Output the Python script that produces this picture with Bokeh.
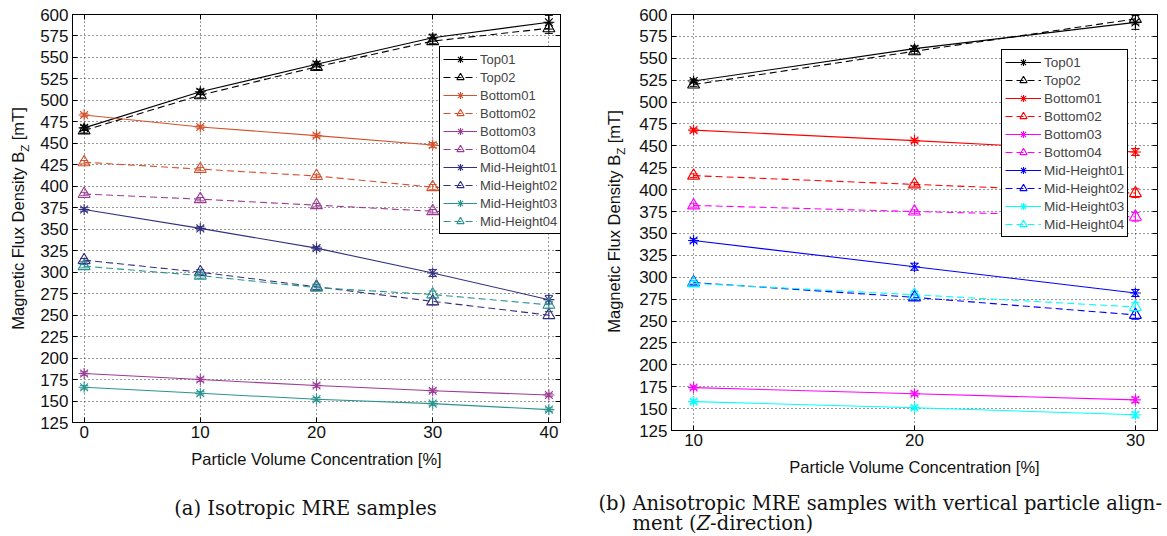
import math
from bokeh.plotting import figure
from bokeh.models import (Range1d, LinearAxis, FixedTicker, CustomJSTickFormatter, Legend,
                          LegendItem, Whisker, TeeHead, ColumnDataSource)
from bokeh.core.properties import value
from bokeh.layouts import row, column
from bokeh.embed import file_html
from bokeh.resources import INLINE

# ---------------- data ----------------
names = ["Top01", "Top02", "Bottom01", "Bottom02", "Bottom03", "Bottom04",
         "Mid-Height01", "Mid-Height02", "Mid-Height03", "Mid-Height04"]
y_ticks = [125, 150, 175, 200, 225, 250, 275, 300, 325, 350, 375, 400, 425, 450,
           475, 500, 525, 550, 575, 600]

# (a) isotropic
x_iso = [0, 10, 20, 30, 40]
iso_top01 = [468, 510, 542, 573, 591]
iso_top02 = [465, 506, 539, 569, 584]
iso_bottom01 = [483, 469, 459, 448, 437]
iso_bottom02 = [428, 420, 412, 399, 390]
iso_bottom03 = [182, 175, 168, 162, 157]
iso_bottom04 = [391, 385, 378, 371, 365]
iso_mid01 = [373, 351, 328, 299, 268]
iso_mid02 = [314, 300, 283, 266, 250]
iso_mid03 = [166, 159, 152, 147, 140]
iso_mid04 = [307, 296, 282, 274, 262]
iso_err = [[3, 3, 3, 4, 8], [3, 3, 3, 3, 6], [2, 2, 2, 3, 3], [2, 2, 2, 3, 3],
           [2, 2, 2, 2, 2], [2, 2, 2, 2, 3], [2, 2, 2, 4, 5], [2, 3, 3, 4, 4],
           [2, 2, 2, 2, 2], [2, 3, 3, 4, 4]]

# (b) anisotropic
x_ani = [10, 20, 30]
ani_top01 = [524, 561, 591]
ani_top02 = [520, 558, 595]
ani_bottom01 = [468, 456, 443]
ani_bottom02 = [416, 406, 396]
ani_bottom03 = [174, 167, 160]
ani_bottom04 = [382, 375, 369]
ani_mid01 = [342, 312, 282]
ani_mid02 = [294, 277, 257]
ani_mid03 = [158, 151, 143]
ani_mid04 = [293, 280, 266]
ani_err = [[2, 3, 8], [2, 3, 6], [2, 2, 4], [2, 2, 5], [2, 2, 3], [2, 2, 5],
           [2, 4, 4], [2, 3, 5], [2, 2, 3], [3, 4, 5]]

iso_series = [iso_top01, iso_top02, iso_bottom01, iso_bottom02, iso_bottom03,
              iso_bottom04, iso_mid01, iso_mid02, iso_mid03, iso_mid04]
ani_series = [ani_top01, ani_top02, ani_bottom01, ani_bottom02, ani_bottom03,
              ani_bottom04, ani_mid01, ani_mid02, ani_mid03, ani_mid04]

x_label = "Particle Volume Concentration [%]"
y_label_parts = ["Magnetic Flux Density B", "Z", "[mT]"]
caption_a = "(a) Isotropic MRE samples"
caption_b1 = "(b) Anisotropic MRE samples with vertical particle align-"
caption_b2_parts = ["ment (", "Z", "-direction)"]

# ---------------- styles ----------------
iso_colors = ["#000000", "#000000", "#D4522E", "#D4522E", "#9B3C94", "#9B3C94",
              "#33307F", "#33307F", "#2A958F", "#2A958F"]
ani_colors = ["#000000", "#000000", "#FF0000", "#FF0000", "#FF00FF", "#FF00FF",
              "#0000FF", "#0000FF", "#00FFFF", "#00FFFF"]
markers = ["asterisk", "triangle"] * 5
dashes = ["solid", "7 4"] * 5

FONT = "Liberation Sans"
SERIF = "DejaVu Serif"
TOTAL_W = 1167
TOP_H = 490
CAP_H = 46


def ylabel_fig(width, cx, cy_from_top, mt, frame_h):
    q = figure(frame_width=width, frame_height=frame_h, output_backend="svg",
               toolbar_location=None, x_range=Range1d(0, width), y_range=Range1d(0, frame_h),
               x_axis_type=None, y_axis_type=None, min_border_left=0, min_border_right=0,
               min_border_top=mt, min_border_bottom=TOP_H - mt - frame_h)
    q.outline_line_color = None
    q.grid.visible = False
    f, fz = 16.5, 11.5
    w_main = 10.781 * f
    w_z = 0.611 * fz
    w_space = 0.278 * f
    w_rest = 2.0 * f
    total = w_main + w_z + w_space + w_rest
    anchor_y = frame_h - (cy_from_top - mt)   # data y of the label centre
    offs = [total / 2, total / 2 - w_main, total / 2 - w_main - w_z - w_space]
    common = dict(angle=math.pi / 2, text_align="left", text_baseline="middle",
                  text_font=value(FONT), text_color="#111111")
    q.text(x=[cx], y=[anchor_y], text=[y_label_parts[0]], y_offset=offs[0],
           text_font_size="16.5px", **common)
    q.text(x=[cx], y=[anchor_y], text=[y_label_parts[1]], y_offset=offs[1], x_offset=7,
           text_font_size="11.5px", **common)
    q.text(x=[cx], y=[anchor_y], text=[y_label_parts[2]], y_offset=offs[2],
           text_font_size="16.5px", **common)
    return q


def caption_fig():
    q = figure(width=TOTAL_W, height=CAP_H, output_backend="svg", toolbar_location=None,
               x_range=Range1d(0, TOTAL_W), y_range=Range1d(0, CAP_H),
               x_axis_type=None, y_axis_type=None, min_border=0)
    q.outline_line_color = None
    q.grid.visible = False
    fs = 19.5
    common = dict(text_baseline="middle", text_font=value(SERIF), text_color="#111111",
                  text_font_size=f"{fs}px")
    q.text(x=[305], y=[CAP_H - 18], text=[caption_a], text_align="center", **common)
    q.text(x=[598], y=[CAP_H - 13], text=[caption_b1], text_align="left", **common)
    w1 = 3.294 * fs
    w2 = 0.686 * fs
    y2 = CAP_H - 33
    q.text(x=[632], y=[y2], text=[caption_b2_parts[0]], text_align="left", **common)
    q.text(x=[632 + w1], y=[y2], text=[caption_b2_parts[1]], text_align="left",
           text_font_style="italic", **common)
    q.text(x=[632 + w1 + w2], y=[y2], text=[caption_b2_parts[2]], text_align="left", **common)
    return q


def make_plot(x, series, errs, colors, xr, xticks, frame_w, ml, mr, mt, frame_h,
              leg_loc, leg_font, leg_glyph_w):
    p = figure(frame_width=frame_w, frame_height=frame_h, output_backend="svg",
               toolbar_location=None, x_range=Range1d(*xr), y_range=Range1d(125, 600),
               min_border_left=ml, min_border_right=mr, min_border_top=mt,
               min_border_bottom=TOP_H - mt - frame_h)
    p.outline_line_color = "black"
    p.outline_line_width = 1

    p.xaxis.ticker = FixedTicker(ticks=xticks)
    p.yaxis.ticker = FixedTicker(ticks=y_ticks)
    p.xgrid.ticker = FixedTicker(ticks=xticks)
    p.ygrid.ticker = FixedTicker(ticks=y_ticks)
    p.grid.grid_line_color = "#333333"
    p.grid.grid_line_dash = "1 3"
    p.grid.grid_line_width = 1

    for ax in (p.xaxis[0], p.yaxis[0]):
        ax.major_tick_in = 5
        ax.major_tick_out = 0
        ax.minor_tick_in = 0
        ax.minor_tick_out = 0
        ax.axis_line_color = "black"
        ax.major_tick_line_color = "black"
        ax.major_label_text_font = FONT
        ax.major_label_text_font_size = "17px"
        ax.major_label_text_color = "#111111"
    p.yaxis.major_label_standoff = 4
    p.xaxis.major_label_standoff = 3
    p.xaxis.axis_label = x_label
    p.xaxis.axis_label_text_font = FONT
    p.xaxis.axis_label_text_font_size = "16.5px"
    p.xaxis.axis_label_text_font_style = "normal"
    p.xaxis.axis_label_text_color = "#111111"
    p.xaxis.axis_label_standoff = 9

    blank = CustomJSTickFormatter(code="return ''")
    ra = LinearAxis(ticker=FixedTicker(ticks=y_ticks), formatter=blank,
                    major_tick_in=5, major_tick_out=0, minor_tick_in=0, minor_tick_out=0,
                    major_label_standoff=0, axis_line_color="black")
    p.add_layout(ra, "right")
    ta = LinearAxis(ticker=FixedTicker(ticks=xticks), formatter=blank,
                    major_tick_in=5, major_tick_out=0, minor_tick_in=0, minor_tick_out=0,
                    major_label_standoff=0, axis_line_color="black")
    p.add_layout(ta, "above")

    items = []
    for name, yv, err, col, mk, dash in zip(names, series, errs, colors, markers, dashes):
        src = ColumnDataSource(dict(x=x, y=yv,
                                    lo=[v - e for v, e in zip(yv, err)],
                                    hi=[v + e for v, e in zip(yv, err)]))
        wk = Whisker(source=src, base="x", lower="lo", upper="hi", dimension="height",
                     line_color=col, line_width=1,
                     upper_head=TeeHead(size=8, line_color=col, line_width=1),
                     lower_head=TeeHead(size=8, line_color=col, line_width=1))
        p.add_layout(wk)
        ln = p.line("x", "y", source=src, line_color=col, line_width=1.1, line_dash=dash)
        sc = p.scatter("x", "y", source=src, marker=mk,
                       size=12 if mk == "triangle" else 11,
                       line_color=col, fill_color=None, line_width=1.1)
        items.append(LegendItem(label=name, renderers=[ln, sc]))

    leg = Legend(items=items, location=leg_loc, label_text_font=FONT,
                 label_text_font_size=leg_font, glyph_width=leg_glyph_w, glyph_height=18,
                 label_height=18, label_standoff=3, padding=3, spacing=0, margin=0,
                 border_line_color="black", border_line_width=1, border_line_alpha=1,
                 background_fill_color="white", background_fill_alpha=1)
    p.add_layout(leg)
    return p


lab1 = ylabel_fig(30, 17, 217, mt=13, frame_h=408)
p1 = make_plot(x_iso, iso_series, iso_err, iso_colors, (-1, 41), x_iso,
               frame_w=488, ml=42, mr=40, mt=13, frame_h=408,
               leg_loc=(367, 188), leg_font="13px", leg_glyph_w=34)
lab2 = ylabel_fig(30, 13, 221, mt=14, frame_h=416)
p2 = make_plot(x_ani, ani_series, ani_err, ani_colors, (9, 31), x_ani,
               frame_w=486, ml=41, mr=10, mt=14, frame_h=416,
               leg_loc=(330, 193), leg_font="13.5px", leg_glyph_w=36)
cap = caption_fig()

layout = column(row(lab1, p1, lab2, p2, spacing=0), cap, spacing=0)
open("out.html", "w").write(file_html(layout, INLINE))
